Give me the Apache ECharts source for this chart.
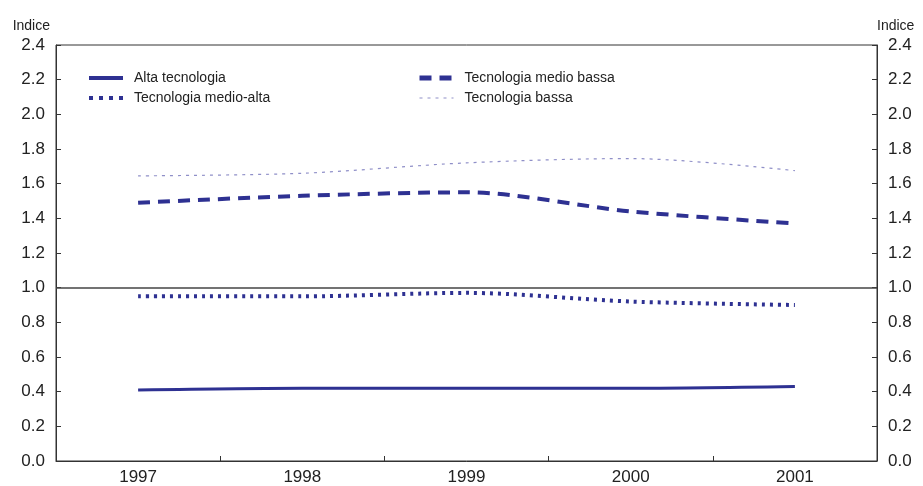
<!DOCTYPE html>
<html>
<head>
<meta charset="utf-8">
<script src="https://cdn.jsdelivr.net/npm/echarts@6/dist/echarts.min.js"></script>
<style>
  html, body { margin: 0; padding: 0; background: #fff; }
  #main { width: 923px; height: 486px; }
</style>
</head>
<body>
<div id="main"></div>
<script>
// dati
var anni = ['1997', '1998', '1999', '2000', '2001'];
var altaTecnologia = [0.41, 0.42, 0.42, 0.42, 0.43];
var medioAlta = [0.95, 0.95, 0.97, 0.92, 0.90];
var medioBassa = [1.49, 1.53, 1.55, 1.44, 1.37];
var bassa = [1.645, 1.66, 1.72, 1.745, 1.675];

var blu = '#2e3192';
var chiaro = '#8f8fc8';
var font = 'Liberation Sans';

var myChart = echarts.init(document.getElementById('main'));

var yAxisBase = {
  type: 'value',
  min: 0,
  max: 2.4,
  interval: 0.2,
  name: 'Indice',
  nameGap: 12,
  axisLine: { show: true, lineStyle: { color: '#333' } },
  axisTick: { show: true, inside: true, length: 5, lineStyle: { color: '#333' } },
  splitLine: { show: false },
  axisLabel: {
    color: '#222', fontFamily: font, fontSize: 17, margin: 11,
    formatter: function (v) { return v.toFixed(1); }
  }
};

var legendBase = {
  orient: 'vertical', top: 66, itemGap: 6,
  itemWidth: 34, itemHeight: 12,
  itemStyle: { opacity: 0 },
  textStyle: { fontSize: 14, color: '#222', fontFamily: font, padding: [0, 0, 0, 6] }
};

var option = {
  animation: false,
  textStyle: { fontFamily: font },
  grid: {
    left: 56, right: 46, top: 45, bottom: 22,
    show: true, borderColor: '#333', borderWidth: 1
  },
  legend: [
    Object.assign({}, legendBase, {
      left: 82,
      data: [
        { name: 'Alta tecnologia', lineStyle: { width: 4, color: blu, type: 'solid' } },
        { name: 'Tecnologia medio-alta', lineStyle: { width: 4, color: blu, type: [4, 6] } }
      ]
    }),
    Object.assign({}, legendBase, {
      left: 412,
      data: [
        { name: 'Tecnologia medio bassa', lineStyle: { width: 5, color: blu, type: [12, 8] } },
        { name: 'Tecnologia bassa', lineStyle: { width: 1.2, color: chiaro, type: [3, 5] } }
      ]
    })
  ],
  xAxis: {
    type: 'category',
    data: anni,
    boundaryGap: true,
    axisLine: { lineStyle: { color: '#333' } },
    axisTick: { show: true, inside: true, length: 5, lineStyle: { color: '#333' } },
    axisLabel: { color: '#222', fontFamily: font, fontSize: 17, margin: 8 }
  },
  yAxis: [
    Object.assign({}, yAxisBase, {
      position: 'left',
      nameTextStyle: { color: '#222', fontFamily: font, fontSize: 14, align: 'right', padding: [0, 6, 0, 0] }
    }),
    Object.assign({}, yAxisBase, {
      position: 'right',
      nameTextStyle: { color: '#222', fontFamily: font, fontSize: 14, align: 'left', padding: [0, 0, 0, 0] }
    })
  ],
  series: [
    {
      name: 'Alta tecnologia',
      type: 'line',
      data: altaTecnologia,
      smooth: 0.3,
      showSymbol: false,
      symbol: 'none',
      lineStyle: { color: blu, width: 3 },
      itemStyle: { color: blu },
      markLine: {
        silent: true,
        symbol: 'none',
        label: { show: false },
        lineStyle: { color: '#444', width: 1.5, type: 'solid' },
        data: [{ yAxis: 1.0 }]
      }
    },
    {
      name: 'Tecnologia medio-alta',
      type: 'line',
      data: medioAlta,
      smooth: 0.3,
      showSymbol: false,
      symbol: 'none',
      lineStyle: { color: blu, width: 4, type: [3, 5] },
      itemStyle: { color: blu }
    },
    {
      name: 'Tecnologia medio bassa',
      type: 'line',
      data: medioBassa,
      smooth: 0.3,
      showSymbol: false,
      symbol: 'none',
      lineStyle: { color: blu, width: 4, type: [12, 8] },
      itemStyle: { color: blu }
    },
    {
      name: 'Tecnologia bassa',
      type: 'line',
      data: bassa,
      smooth: 0.3,
      showSymbol: false,
      symbol: 'none',
      lineStyle: { color: chiaro, width: 1.2, type: [3, 5] },
      itemStyle: { color: chiaro }
    }
  ]
};

myChart.setOption(option);
</script>
</body>
</html>
